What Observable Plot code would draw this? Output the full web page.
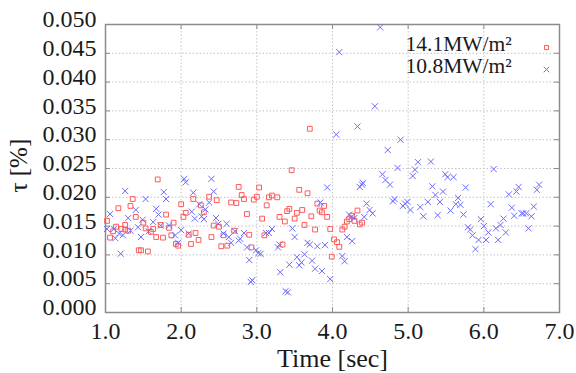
<!DOCTYPE html>
<html><head><meta charset="utf-8">
<script src="https://cdn.jsdelivr.net/npm/d3@7"></script>
<script src="https://cdn.jsdelivr.net/npm/@observablehq/plot@0.6"></script>
<style>body{margin:0;background:#fff}</style>
</head><body><div id="chart"></div>
<script>
const redTime = [1.69,1.36,1.17,1.33,1.40,1.02,1.10,1.14,1.21,1.26,1.26,1.30,1.06,1.44,1.47,1.56,1.50,1.53,1.60,1.63,1.67,1.73,1.76,1.80,1.84,1.87,1.90,1.93,1.96,2.00,2.03,2.06,2.13,2.16,2.10,2.19,
2.76,3.03,2.80,2.83,2.96,3.00,3.16,3.20,3.27,2.37,2.47,2.66,2.73,2.26,3.13,2.30,2.87,3.07,3.30,2.43,2.50,2.70,2.56,2.90,3.10,2.40,2.23,2.53,2.61,2.93,
3.70,3.46,3.56,3.67,3.80,3.89,3.43,3.40,3.53,3.60,3.83,3.86,3.50,3.37,3.72,3.93,3.63,3.77,3.97,3.34,4.02,4.06,4.09,3.99,4.13,4.16,4.19,4.22,4.26,4.33,4.29,4.36,4.39];
const redTau = [0.0231,0.0197,0.0181,0.0185,0.0166,0.0159,0.0141,0.0149,0.0145,0.0152,0.0144,0.0142,0.0130,0.0108,0.0108,0.0106,0.0156,0.0146,0.0140,0.0145,0.0131,0.0152,0.0130,0.0170,0.0147,0.0134,0.0156,0.0119,0.0116,0.0188,0.0166,0.0173,0.0119,0.0197,0.0135,0.0138,
0.0218,0.0217,0.0204,0.0197,0.0196,0.0201,0.0200,0.0203,0.0200,0.0201,0.0195,0.0191,0.0190,0.0186,0.0186,0.0174,0.0171,0.0163,0.0166,0.0151,0.0149,0.0142,0.0134,0.0135,0.0134,0.0131,0.0126,0.0115,0.0116,0.0113,
0.0319,0.0247,0.0213,0.0207,0.0189,0.0185,0.0180,0.0176,0.0173,0.0178,0.0177,0.0174,0.0163,0.0158,0.0167,0.0166,0.0152,0.0144,0.0145,0.0118,0.0127,0.0122,0.0114,0.0097,0.0144,0.0149,0.0158,0.0162,0.0168,0.0177,0.0159,0.0153,0.0156];

const blueTime = [1.26,1.77,1.80,2.04,2.06,2.16,1.53,1.40,1.67,1.70,1.06,1.30,1.49,1.63,1.02,1.11,1.18,1.23,1.33,1.43,1.13,1.47,1.57,1.84,1.92,1.96,2.00,2.10,2.18,1.20,1.73,
2.40,2.43,2.37,2.24,2.32,2.14,2.27,2.30,2.46,2.49,2.60,2.71,2.83,2.56,2.63,2.78,2.66,2.76,2.87,2.99,3.05,3.02,2.90,2.94,2.92,3.20,3.12,3.16,3.28,3.30,3.31,
4.33,4.05,3.93,4.36,4.39,3.84,4.22,4.25,4.29,3.47,3.50,3.67,3.70,3.80,3.90,4.19,4.26,3.63,3.53,3.59,3.56,3.73,3.43,3.77,3.86,4.13,4.16,3.97,3.38,3.41,
4.63,4.09,4.56,4.90,4.73,4.86,5.13,5.30,5.09,5.06,5.49,5.52,4.66,4.70,4.76,4.40,5.32,5.46,5.36,4.82,4.80,4.99,4.96,4.93,5.03,5.26,5.42,5.16,5.56,4.45,4.49,4.53,4.42,5.20,5.39,
6.13,5.60,5.76,5.66,5.63,5.69,5.73,6.09,6.33,6.43,6.46,6.70,6.73,6.37,6.40,6.50,6.52,6.56,6.63,6.66,6.59,6.26,5.96,6.00,5.79,5.82,5.85,5.93,6.03,6.06,6.16,6.22,6.29,6.19,5.89];
const blueTau = [0.0211,0.0209,0.0197,0.0232,0.0226,0.0208,0.0197,0.0178,0.0180,0.0170,0.0171,0.0164,0.0161,0.0157,0.0145,0.0145,0.0137,0.0134,0.0142,0.0148,0.0129,0.0131,0.0141,0.0151,0.0134,0.0121,0.0143,0.0137,0.0163,0.0102,0.0151,
0.0232,0.0210,0.0191,0.0188,0.0179,0.0175,0.0167,0.0162,0.0164,0.0154,0.0154,0.0141,0.0138,0.0137,0.0131,0.0128,0.0121,0.0125,0.0113,0.0108,0.0102,0.0103,0.0091,0.0056,0.0053,0.0145,0.0138,0.0138,0.0113,0.0118,0.0070,
0.0323,0.0309,0.0217,0.0218,0.0222,0.0191,0.0170,0.0166,0.0164,0.0146,0.0131,0.0121,0.0118,0.0115,0.0117,0.0131,0.0124,0.0101,0.0096,0.0087,0.0082,0.0090,0.0083,0.0076,0.0072,0.0098,0.0089,0.0058,0.0037,0.0035,
0.0495,0.0452,0.0358,0.0300,0.0282,0.0251,0.0261,0.0262,0.0248,0.0237,0.0240,0.0235,0.0240,0.0230,0.0222,0.0225,0.0219,0.0210,0.0204,0.0197,0.0193,0.0192,0.0189,0.0185,0.0178,0.0192,0.0192,0.0183,0.0177,0.0189,0.0178,0.0172,0.0166,0.0167,0.0169,
0.0249,0.0235,0.0217,0.0199,0.0188,0.0187,0.0170,0.0188,0.0205,0.0210,0.0218,0.0213,0.0222,0.0182,0.0168,0.0172,0.0172,0.0172,0.0167,0.0184,0.0146,0.0163,0.0162,0.0150,0.0148,0.0144,0.0134,0.0126,0.0126,0.0139,0.0146,0.0152,0.0139,0.0126,0.0110];

const xTicks = [1, 2, 3, 4, 5, 6, 7];
const yTicks = [0, 0.005, 0.01, 0.015, 0.02, 0.025, 0.03, 0.035, 0.04, 0.045, 0.05];
const seriesLabels = ["14.1MW/m²", "10.8MW/m²"];
const xLabel = "Time [sec]";
const yLabel = "τ [%]";

const red = redTime.map((t, i) => ({t, tau: redTau[i]}));
const blue = blueTime.map((t, i) => ({t, tau: blueTau[i]}));

const RED = "#ff5a5a", BLUE = "#6b6bff", FRAME = "#8c8c8c", INK = "#1a1a1a";
const font = "'Liberation Serif','Times New Roman',serif";

const chart = Plot.plot({
  width: 576, height: 373,
  marginLeft: 105, marginRight: 17, marginTop: 24, marginBottom: 61,
  style: {fontFamily: font, background: "#fff", color: INK, overflow: "visible"},
  x: {domain: [1, 7]},
  y: {domain: [0, 0.05]},
  marks: [
    Plot.gridX(xTicks, {stroke: "#c4c4c4", strokeOpacity: 1, strokeDasharray: "1.5,2"}),
    Plot.gridY(yTicks, {stroke: "#c4c4c4", strokeOpacity: 1, strokeDasharray: "1.5,2"}),
    Plot.tickY(yTicks, {y: d => d, insetRight: 449, stroke: FRAME}),
    Plot.tickY(yTicks, {y: d => d, insetLeft: 449, stroke: FRAME}),
    Plot.tickX(xTicks, {x: d => d, insetBottom: 283, stroke: FRAME}),
    Plot.tickX(xTicks, {x: d => d, insetTop: 283, stroke: FRAME}),
    Plot.frame({stroke: FRAME, strokeWidth: 1.5}),
    Plot.axisY(yTicks, {tickSize: 0, tickPadding: 9, fontSize: 24, tickFormat: d3.format(".3f"), dy: -5, label: null}),
    Plot.axisX(xTicks, {tickSize: 0, tickPadding: 9, fontSize: 24, tickFormat: d3.format(".1f"), label: null}),
    Plot.dot(red, {x: "t", y: "tau", symbol: "square", r: 2.7, stroke: RED, strokeWidth: 1}),
    Plot.dot(blue, {x: "t", y: "tau", symbol: "times", r: 2.9, stroke: BLUE, strokeWidth: 1}),
    Plot.text([xLabel], {frameAnchor: "bottom", dy: 46, fontSize: 26, lineAnchor: "middle", fill: INK}),
    Plot.text([yLabel], {frameAnchor: "left", dx: -87, dy: 24, rotate: -90, fontSize: 25, lineAnchor: "middle", fill: INK}),
    Plot.text([seriesLabels[0]], {frameAnchor: "top-right", dx: -154, dy: 26, textAnchor: "start", lineAnchor: "bottom", fontSize: 21.5, fill: INK}),
    Plot.text([seriesLabels[1]], {frameAnchor: "top-right", dx: -154, dy: 48, textAnchor: "start", lineAnchor: "bottom", fontSize: 21.5, fill: INK}),
    Plot.dot([seriesLabels[0]], {x: null, y: null, frameAnchor: "top-right", dx: -13, dy: 23, symbol: "square", r: 2.3, stroke: RED, strokeWidth: 1}),
    Plot.dot([seriesLabels[1]], {x: null, y: null, frameAnchor: "top-right", dx: -13, dy: 45, symbol: "times", r: 2.6, stroke: BLUE, strokeWidth: 1})
  ]
});
document.getElementById("chart").append(chart);
</script>
</body></html>
